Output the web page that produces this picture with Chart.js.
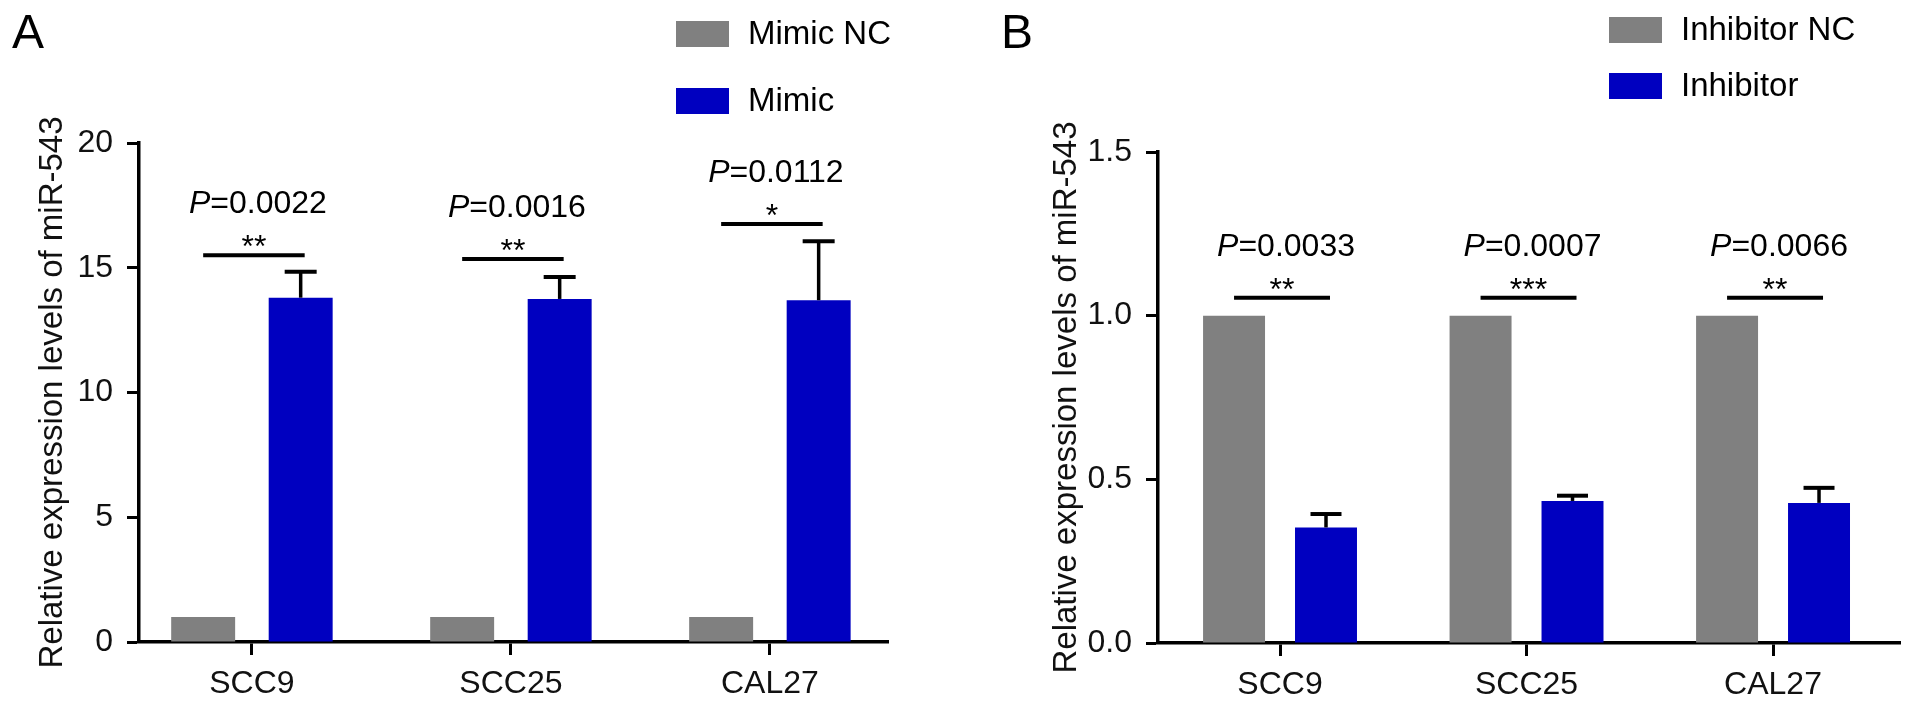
<!DOCTYPE html>
<html>
<head>
<meta charset="utf-8">
<script src="https://cdn.jsdelivr.net/npm/chart.js@4.4.1/dist/chart.umd.min.js"></script>
<style>
  html, body { margin: 0; padding: 0; background: #fff; }
  canvas { position: absolute; top: 0; }
  #chartA { left: 0; }
  #chartB { left: 960px; }
</style>
</head>
<body>
<canvas id="chartA" width="960" height="707"></canvas>
<canvas id="chartB" width="953" height="707"></canvas>
<script>
// qPCR of miR-543 in three OSCC lines
var cells = ['SCC9', 'SCC25', 'CAL27'];

var mimicLabels  = ['Mimic NC', 'Mimic'];
var mimicNC      = [1, 1, 1];
var mimic        = [13.8, 13.75, 13.7];
var mimicErr     = [1.04, 0.88, 2.36];
var mimicBracket = [15.5, 15.35, 16.75];
var mimicP       = ['0.0022', '0.0016', '0.0112'];
var mimicStars   = ['**', '**', '*'];
var mimicTicks   = [0, 5, 10, 15, 20];

var inhLabels  = ['Inhibitor NC', 'Inhibitor'];
var inhNC      = [1, 1, 1];
var inh        = [0.353, 0.434, 0.428];
var inhErr     = [0.041, 0.016, 0.046];
var inhBracket = [1.055, 1.055, 1.055];
var inhP       = ['0.0033', '0.0007', '0.0066'];
var inhStars   = ['**', '***', '**'];
var inhTicks   = [0, 0.5, 1.0, 1.5];

var FONT  = "'Liberation Sans', Arial, Helvetica, sans-serif";
var GRAY  = '#808080';
var BLUE  = '#0000c0';
var YTITLE = 'Relative expression levels of miR-543';

function pts(arr) { return arr.map(function (v, i) { return { x: i, y: v }; }); }

// error bars, significance brackets, legend and panel letter
var overlay = {
  id: 'overlay',
  afterDatasetsDraw: function (chart, args, o) {
    var ctx = chart.ctx, ys = chart.scales.y;
    var nc = chart.getDatasetMeta(0).data, tr = chart.getDatasetMeta(1).data;
    ctx.save();
    ctx.strokeStyle = '#000';
    ctx.fillStyle = '#000';
    ctx.lineCap = 'butt';

    o.values.forEach(function (v, i) {
      var b = tr[i];
      var top = ys.getPixelForValue(v + o.err[i]);
      ctx.lineWidth = 3.5;
      ctx.beginPath();
      ctx.moveTo(b.x, b.y);
      ctx.lineTo(b.x, top);
      ctx.stroke();
      ctx.lineWidth = 4;
      ctx.beginPath();
      ctx.moveTo(b.x - b.width / 4, top);
      ctx.lineTo(b.x + b.width / 4, top);
      ctx.stroke();
    });

    o.bracket.forEach(function (h, i) {
      var y = ys.getPixelForValue(h);
      var x0 = nc[i].x, x1 = tr[i].x + 4, cx = (x0 + x1) / 2;
      ctx.lineWidth = 4;
      ctx.beginPath();
      ctx.moveTo(x0, y);
      ctx.lineTo(x1, y);
      ctx.stroke();

      ctx.textAlign = 'center';
      ctx.textBaseline = 'alphabetic';
      ctx.font = '32px ' + FONT;
      ctx.fillText(o.stars[i], cx, y + 2);

      ctx.textAlign = 'left';
      ctx.font = 'italic 32px ' + FONT;
      var wP = ctx.measureText('P').width;
      ctx.font = '32px ' + FONT;
      var rest = '=' + o.p[i];
      var wR = ctx.measureText(rest).width;
      var sx = cx + 4 - (wP + wR) / 2;
      ctx.font = 'italic 32px ' + FONT;
      ctx.fillText('P', sx, y - 42);
      ctx.font = '32px ' + FONT;
      ctx.fillText(rest, sx + wP, y - 42);
    });

    // legend
    ctx.font = '33px ' + FONT;
    ctx.textAlign = 'left';
    ctx.textBaseline = 'middle';
    chart.data.datasets.forEach(function (ds, k) {
      var ty = o.legend.y + k * o.legend.gap;
      ctx.fillStyle = ds.backgroundColor;
      ctx.fillRect(o.legend.x, ty - 13, 53, 26);
      ctx.fillStyle = '#000';
      ctx.fillText(ds.label, o.legend.x + 72, ty + 1);
    });

    ctx.font = '48px ' + FONT;
    ctx.textBaseline = 'alphabetic';
    ctx.fillText(o.letter, o.letterX, 48);
    ctx.restore();
  }
};

function makePanel(id, p) {
  var ctx = document.getElementById(id).getContext('2d');
  return new Chart(ctx, {
    type: 'bar',
    data: {
      datasets: [
        { label: p.labels[0], data: pts(p.nc), backgroundColor: GRAY, borderWidth: 0,
          categoryPercentage: p.catPct, barPercentage: p.barPct },
        { label: p.labels[1], data: pts(p.vals), backgroundColor: BLUE, borderWidth: 0,
          categoryPercentage: p.catPct, barPercentage: p.barPct }
      ]
    },
    options: {
      responsive: false,
      animation: false,
      layout: { padding: { left: 0, right: p.padRight, top: p.padTop, bottom: 0 } },
      plugins: {
        legend: { display: false },
        tooltip: { enabled: false },
        overlay: {
          values: p.vals, err: p.err, bracket: p.bracket, p: p.pv, stars: p.stars,
          legend: p.legend, letter: p.letter, letterX: p.letterX
        }
      },
      scales: {
        x: {
          type: 'linear',
          offset: false,
          min: p.xMin, max: p.xMax,
          afterBuildTicks: function (s) { s.ticks = cells.map(function (c, i) { return { value: i }; }); },
          afterFit: function (s) { s.height = p.xHeight; },
          border: { display: true, color: '#000', width: 3.5 },
          grid: { display: true, offset: false, drawOnChartArea: false, drawTicks: true, tickLength: 13, tickWidth: 3, tickColor: '#000' },
          ticks: {
            color: '#111', padding: 10, maxRotation: 0, autoSkip: false,
            font: { family: FONT, size: 32 },
            callback: function (v) { return cells[v]; }
          }
        },
        y: {
          min: p.yTicks[0], max: p.yTicks[p.yTicks.length - 1],
          afterBuildTicks: function (s) { s.ticks = p.yTicks.map(function (v) { return { value: v }; }); },
          afterFit: function (s) { s.width = p.yWidth; },
          border: { display: true, color: '#000', width: 3.5 },
          grid: { display: true, drawOnChartArea: false, drawTicks: true, tickLength: 12, tickWidth: 3, tickColor: '#000' },
          ticks: {
            color: '#111', padding: 14,
            font: { family: FONT, size: 32 },
            callback: p.fmt
          },
          title: {
            display: true, text: YTITLE, color: '#111',
            font: { family: FONT, size: 33 },
            padding: { top: p.titlePad, bottom: 0 }
          }
        }
      }
    },
    plugins: [overlay]
  });
}

makePanel('chartA', {
  labels: mimicLabels, nc: mimicNC, vals: mimic, err: mimicErr, bracket: mimicBracket,
  pv: mimicP, stars: mimicStars, yTicks: mimicTicks,
  fmt: function (v) { return String(v); },
  xMin: -0.436, xMax: 2.456, catPct: 0.753, barPct: 0.656,
  yWidth: 139, xHeight: 65, padTop: 143, padRight: 72, titlePad: 33,
  legend: { x: 676, y: 34, gap: 67 }, letter: 'A', letterX: 12
});

makePanel('chartB', {
  labels: inhLabels, nc: inhNC, vals: inh, err: inhErr, bracket: inhBracket,
  pv: inhP, stars: inhStars, yTicks: inhTicks,
  fmt: function (v) { return v.toFixed(1); },
  xMin: -0.495, xMax: 2.515, catPct: 0.746, barPct: 0.674,
  yWidth: 198, xHeight: 64, padTop: 152, padRight: 13, titlePad: 87,
  legend: { x: 649, y: 30, gap: 56 }, letter: 'B', letterX: 41
});
</script>
</body>
</html>
